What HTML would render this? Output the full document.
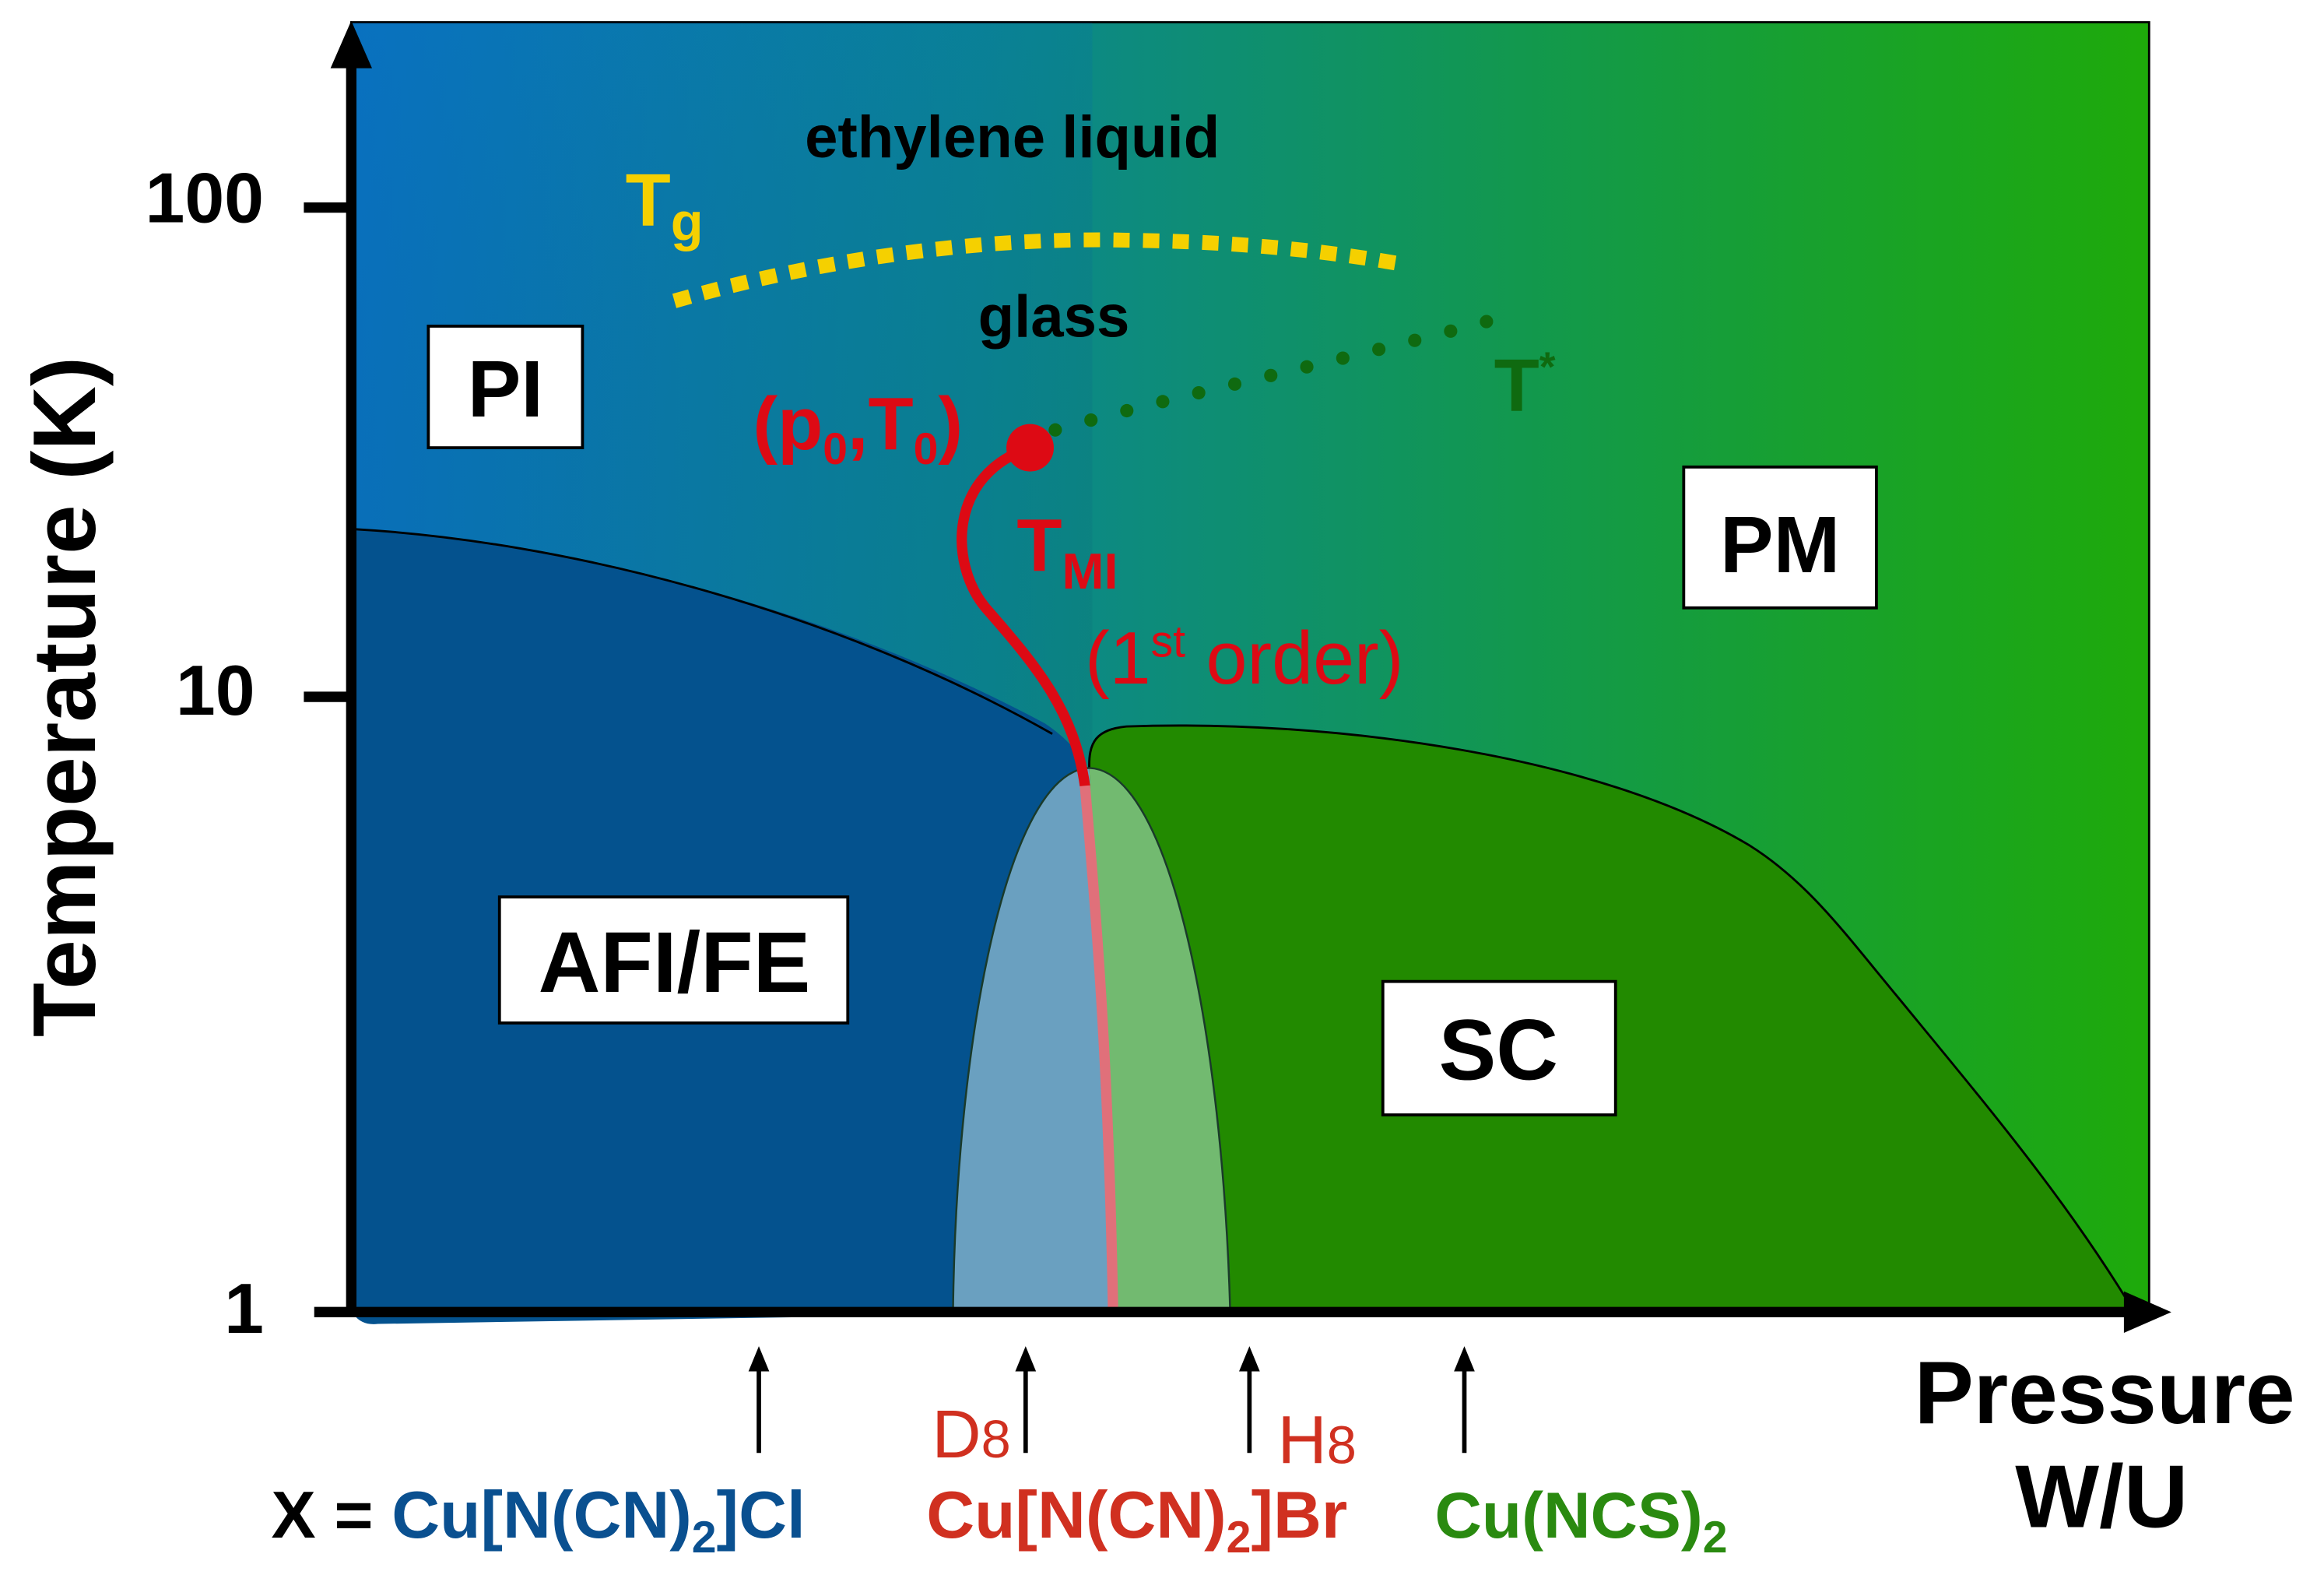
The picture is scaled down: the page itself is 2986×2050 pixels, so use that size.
<!DOCTYPE html>
<html><head><meta charset="utf-8"><style>html,body{margin:0;padding:0;background:#fff}svg{display:block}</style></head><body>
<svg width="2986" height="2050" viewBox="0 0 1568 1076.5" preserveAspectRatio="none" xmlns="http://www.w3.org/2000/svg" font-family="Liberation Sans, Arial, sans-serif">
<defs>
<linearGradient id="bg" x1="0" y1="0" x2="1" y2="0">
<stop offset="0" stop-color="#0a74c0"/>
<stop offset="0.35" stop-color="#0b8690"/>
<stop offset="0.65" stop-color="#12984e"/>
<stop offset="1" stop-color="#1eaa0a"/>
</linearGradient>
<linearGradient id="bgv" x1="0" y1="0" x2="0" y2="1">
<stop offset="0" stop-color="#0060c0" stop-opacity="0.15"/>
<stop offset="1" stop-color="#000" stop-opacity="0"/>
</linearGradient>
</defs>
<rect x="237" y="15" width="1213" height="870" fill="url(#bg)" stroke="#000" stroke-width="1.5"/>
<rect x="237" y="15" width="500" height="870" fill="url(#bgv)"/>
<path d="M240,357 C380,365 560,410 705,488 C730,505 738,520 740,560 L750,885 L255,893 C238,895 232,880 236,860 L236,520 C232,505 236,495 240,490 Z" fill="#04528e"/>
<path d="M240,357 C380,365 560,410 710,495" fill="none" stroke="#000" stroke-width="1.5"/>
<path d="M735,520 C734,500 740,492 760,490 C900,485 1080,510 1180,570 C1220,595 1245,630 1280,672 C1340,745 1395,810 1440,885 L735,885 Z" fill="#228a00" stroke="#000" stroke-width="1.5"/>
<path d="M643,885 C645,700 680,520 735,518 L750,885 Z" fill="#6aa0c0"/>
<path d="M735,518 C790,520 825,700 830,885 L750,885 Z" fill="#72ba70"/>
<path d="M643,885 C645,700 680,520 735,518 C790,520 825,700 830,885" fill="none" stroke="#1a3a2a" stroke-width="1.3"/>
<path d="M695,302 C640,320 640,380 665,410 C700,450 725,480 732,530" fill="none" stroke="#dd0a14" stroke-width="7" stroke-linecap="round"/>
<path d="M732,530 C740,620 748,720 751,885" fill="none" stroke="#e0707a" stroke-width="7"/>
<circle cx="695" cy="302" r="16" fill="#dd0a14"/>
<path d="M455,203 C570,170 680,160 760,162 C840,163 900,170 945,178" fill="none" stroke="#f5d000" stroke-width="10" stroke-dasharray="11,9"/>
<path d="M712,290 C800,265 900,245 1010,215" fill="none" stroke="#0f6a10" stroke-width="9" stroke-dasharray="0,25" stroke-linecap="round"/>
<line x1="237" y1="885" x2="237" y2="40" stroke="#000" stroke-width="7"/>
<polygon points="237,14 223,46 251,46" fill="#000"/>
<line x1="212" y1="885" x2="1440" y2="885" stroke="#000" stroke-width="7"/>
<polygon points="1465,885 1433,871 1433,899" fill="#000"/>
<line x1="205" y1="140" x2="237" y2="140" stroke="#000" stroke-width="7"/>
<line x1="205" y1="470" x2="237" y2="470" stroke="#000" stroke-width="7"/>
<g font-weight="bold" font-size="48" fill="#000">
<text x="178" y="150" text-anchor="end">100</text>
<text x="172" y="482" text-anchor="end">10</text>
<text x="178" y="899" text-anchor="end">1</text>
<text transform="translate(64,470) rotate(-90)" text-anchor="middle" font-size="60">Temperature (K)</text>
<text x="1420" y="960" text-anchor="middle" font-size="60">Pressure</text>
<text x="1418" y="1030" text-anchor="middle" font-size="60">W/U</text>
</g>
<g fill="#fff" stroke="#000" stroke-width="2">
<rect x="289" y="220" width="104" height="82"/>
<rect x="1136" y="315" width="130" height="95"/>
<rect x="337" y="605" width="235" height="85"/>
<rect x="933" y="662" width="157" height="90"/>
</g>
<g font-weight="bold" font-size="54" fill="#000" text-anchor="middle">
<text x="341" y="281">PI</text>
<text x="1201" y="386">PM</text>
<text x="455" y="669" font-size="58">AFI/FE</text>
<text x="1011" y="728" font-size="58">SC</text>
</g>
<text x="683" y="106" font-weight="bold" font-size="40" text-anchor="middle">ethylene liquid</text>
<text x="711" y="227" font-weight="bold" font-size="40" text-anchor="middle">glass</text>
<text x="422" y="152" font-weight="bold" font-size="50" fill="#f5d000">T<tspan font-size="36" dy="10">g</tspan></text>
<text x="1008" y="277" font-weight="bold" font-size="50" fill="#0f6a10">T<tspan font-size="28" dy="-20">*</tspan></text>
<text x="508" y="303" font-weight="bold" font-size="50" fill="#dd0a14">(p<tspan font-size="30" dy="10">0</tspan><tspan dy="-10">,T</tspan><tspan font-size="30" dy="10">0</tspan><tspan dy="-10">)</tspan></text>
<text x="686" y="385" font-weight="bold" font-size="50" fill="#dd0a14">T<tspan font-size="34" dy="12">MI</tspan></text>
<text x="732" y="461" font-size="50" fill="#dd0a14">(1<tspan font-size="30" dy="-18">st</tspan><tspan dy="18"> order)</tspan></text>
<g stroke="#000" stroke-width="3">
<line x1="512" y1="980" x2="512" y2="918"/><line x1="692" y1="980" x2="692" y2="918"/>
<line x1="843" y1="980" x2="843" y2="918"/><line x1="988" y1="980" x2="988" y2="918"/>
</g>
<g fill="#000">
<polygon points="512,908 505,925 519,925"/><polygon points="692,908 685,925 699,925"/>
<polygon points="843,908 836,925 850,925"/><polygon points="988,908 981,925 995,925"/>
</g>
<text x="682" y="983" font-size="46" fill="#d03020" text-anchor="end">D<tspan font-size="36">8</tspan></text>
<text x="862" y="987" font-size="46" fill="#d03020">H<tspan font-size="36">8</tspan></text>
<g font-weight="bold" font-size="45">
<text x="183" y="1037">X = <tspan fill="#0a5090">Cu[N(CN)<tspan font-size="30" dy="10">2</tspan><tspan dy="-10">]Cl</tspan></tspan></text>
<text x="625" y="1037" fill="#d03020">Cu[N(CN)<tspan font-size="30" dy="10">2</tspan><tspan dy="-10">]Br</tspan></text>
<text x="968" y="1037" fill="#2a8a10" font-size="44">Cu(NCS)<tspan font-size="30" dy="10">2</tspan></text>
</g>
</svg>
</body></html>
